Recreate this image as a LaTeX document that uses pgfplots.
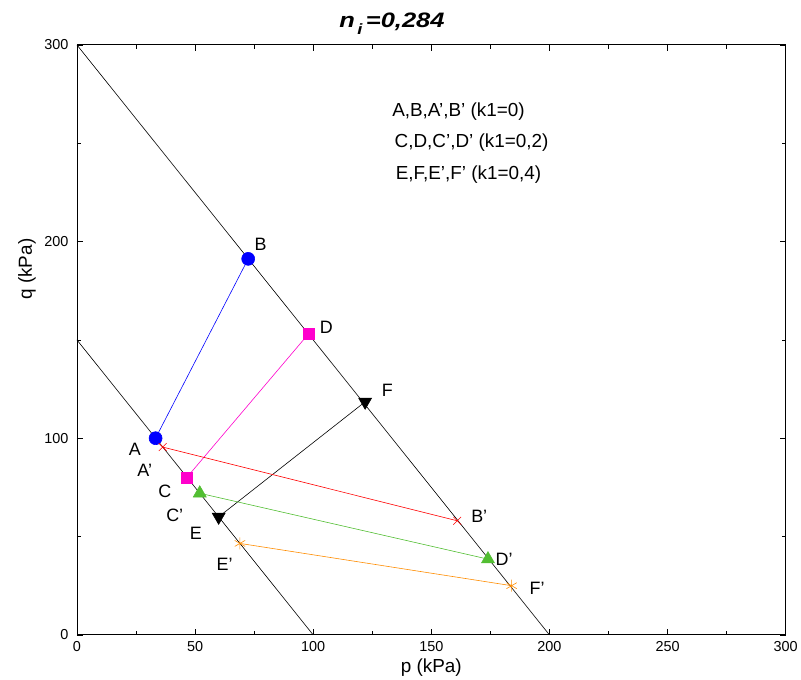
\documentclass[border=0pt]{standalone}
\usepackage{pgfplots}
\pgfplotsset{compat=1.18}
\usepackage{fontspec}
\setmainfont{Liberation Sans}
\newfontfamily\widefont{Liberation Sans}[FakeStretch=1.22]
\usetikzlibrary{plotmarks}
\definecolor{cblue}{RGB}{0,0,255}
\definecolor{cmag}{RGB}{255,0,204}
\definecolor{cgreen}{RGB}{82,190,50}
\definecolor{corange}{RGB}{255,140,0}
\definecolor{cred}{RGB}{255,0,0}
\begin{document}
\begin{tikzpicture}
\begin{axis}[
  scale only axis,
  width=710bp, height=591bp,
  xmin=0, xmax=300, ymin=0, ymax=300,
  xtick={0,50,...,300}, ytick={0,100,200,300},
  minor x tick num=1, minor y tick num=1,
  tick align=inside,
  major tick length=6bp, minor tick length=4bp,
  tick style={black, line width=0.6pt},
  axis line style={line width=0.8pt},
  /pgf/number format/assume math mode=true,
  ticklabel style={font=\fontsize{14.5}{16}\selectfont},
  yticklabel style={xshift=-5bp},
  xticklabel style={yshift=-3bp},
  xlabel={p (kPa)}, ylabel={q (kPa)},
  label style={font=\fontsize{19}{21}\selectfont},
  xlabel style={at={(axis description cs:0.5,-0.0558)}, anchor=center},
  ylabel style={at={(axis description cs:-0.0704,0.62)}, anchor=center},
  clip=false,
]
\path (rel axis cs:-0.1085,-0.0761) rectangle (rel axis cs:1.0197,1.0761);
\addplot[black, line width=0.6pt] coordinates {(0,300) (200,0)};
\addplot[black, line width=0.6pt] coordinates {(0,150) (100,0)};
% A-B
\addplot[cblue, line width=0.6pt, mark=*, mark size=6.5bp, mark options={fill=cblue}] coordinates {(33.3,100) (72.5,191.2)};
% C-D
\addplot[cmag, line width=0.6pt, mark=square*, mark size=5.5bp, mark options={fill=cmag}] coordinates {(46.5,80) (98,153)};
% E-F
\addplot[black, line width=0.6pt, mark=triangle*, mark size=7.5bp, mark options={fill=black, rotate=180}] coordinates {(60,60) (122,118.5)};
% A'-B'
\addplot[cred, line width=0.6pt, mark=x, mark size=5.5bp] coordinates {(36.3,95.5) (161,58)};
% C'-D'
\addplot[cgreen, line width=0.6pt, mark=triangle*, mark size=7.5bp, mark options={fill=cgreen}] coordinates {(52,72) (174,38.5)};
% E'-F'
\addplot[corange, line width=0.6pt, mark=asterisk, mark size=6bp] coordinates {(69,46.5) (184,25)};
\begin{scope}[every node/.style={font=\fontsize{18}{20}\selectfont}]
\node at (axis cs:24.5,94.4) {A};
\node at (axis cs:28.7,83.8) {A'};
\node at (axis cs:37.2,73.1) {C};
\node at (axis cs:41.4,60.9) {C'};
\node at (axis cs:50.3,51.8) {E};
\node at (axis cs:62.5,36.0) {E'};
\node at (axis cs:77.7,198.5) {B};
\node at (axis cs:105.6,156.3) {D};
\node at (axis cs:131.4,124.4) {F};
\node at (axis cs:170.3,60.4) {B'};
\node at (axis cs:180.8,38.6) {D'};
\node at (axis cs:194.8,23.4) {F'};
\end{scope}
\begin{scope}[every node/.style={font=\fontsize{19}{21}\selectfont, anchor=west}]
\node at (axis cs:132,266) {A,B,A',B' (k1=0)};
\node at (axis cs:133,250.3) {C,D,C',D' (k1=0,2)};
\node at (axis cs:133.5,234) {E,F,E',F' (k1=0,4)};
\end{scope}
\node[anchor=base west, inner sep=0pt, font=\widefont\fontsize{21}{23}\selectfont\bfseries\itshape] at (axis cs:111,308.6) {n\raisebox{-0.55ex}{\fontsize{15}{17}\selectfont\,i}\,=0,284};
\end{axis}
\end{tikzpicture}
\end{document}
